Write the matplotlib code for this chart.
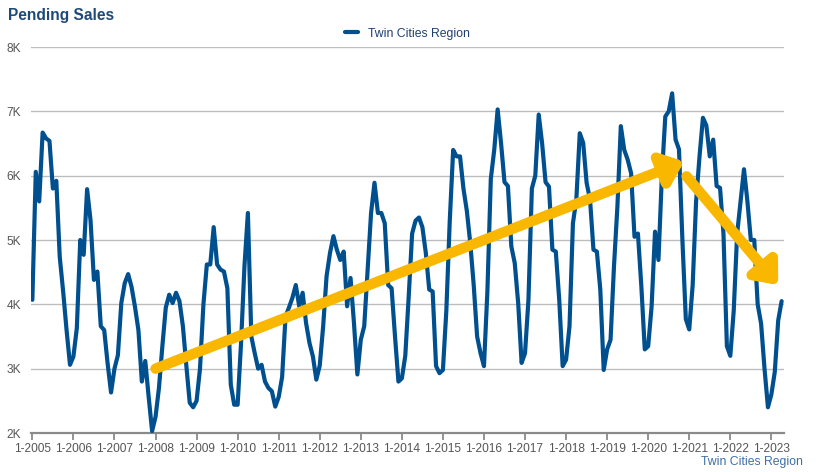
import matplotlib
matplotlib.use("Agg")
import matplotlib.pyplot as plt
import matplotlib.patheffects as pe
import numpy as np

plt.rcParams["font.family"] = ["Liberation Sans", "DejaVu Sans"]

# monthly pending sales (thousands), Jan 2005 .. Apr 2023
y2005 = [4.07, 6.06, 5.60, 6.67, 6.58, 6.54, 5.80, 5.92, 4.74, 4.20, 3.60, 3.06]
y2006 = [3.19, 3.63, 5.00, 4.77, 5.79, 5.31, 4.38, 4.51, 3.66, 3.60, 3.08, 2.63]
y2007 = [3.00, 3.21, 4.02, 4.33, 4.47, 4.27, 3.96, 3.60, 2.80, 3.12, 2.56, 2.03]
y2008 = [2.25, 2.70, 3.35, 3.95, 4.15, 4.02, 4.18, 4.05, 3.66, 3.05, 2.47, 2.40]
y2009 = [2.50, 3.00, 4.00, 4.62, 4.62, 5.20, 4.62, 4.54, 4.51, 4.25, 2.75, 2.44]
y2010 = [2.44, 3.40, 4.60, 5.42, 3.50, 3.24, 3.00, 3.06, 2.80, 2.70, 2.65, 2.41]
y2011 = [2.56, 2.87, 3.81, 3.95, 4.10, 4.30, 3.97, 4.18, 3.71, 3.40, 3.19, 2.83]
y2012 = [3.05, 3.66, 4.44, 4.80, 5.06, 4.85, 4.69, 4.82, 3.97, 4.41, 3.71, 2.91]
y2013 = [3.45, 3.66, 4.54, 5.42, 5.89, 5.42, 5.42, 5.26, 4.30, 4.25, 3.50, 2.80]
y2014 = [2.85, 3.20, 4.12, 5.10, 5.30, 5.35, 5.20, 4.80, 4.23, 4.20, 3.04, 2.93]
y2015 = [2.98, 3.90, 5.30, 6.40, 6.30, 6.30, 5.80, 5.45, 4.95, 4.30, 3.50, 3.24]
y2016 = [3.04, 4.20, 5.95, 6.40, 7.03, 6.50, 5.90, 5.84, 4.90, 4.64, 4.02, 3.09]
y2017 = [3.24, 4.07, 5.80, 6.00, 6.95, 6.50, 5.90, 5.83, 4.85, 4.82, 4.07, 3.04]
y2018 = [3.14, 3.66, 5.26, 5.63, 6.66, 6.51, 5.89, 5.63, 4.85, 4.82, 4.23, 2.98]
y2019 = [3.30, 3.45, 4.59, 5.52, 6.77, 6.40, 6.25, 6.04, 5.05, 5.10, 4.28, 3.30]
y2020 = [3.35, 3.97, 5.13, 4.69, 6.00, 6.92, 7.00, 7.28, 6.56, 6.41, 5.00, 3.77]
y2021 = [3.61, 4.30, 5.60, 6.30, 6.90, 6.78, 6.30, 6.56, 5.84, 5.81, 5.10, 3.35]
y2022 = [3.20, 3.90, 5.10, 5.60, 6.10, 5.60, 5.00, 5.00, 4.00, 3.70, 3.00, 2.40]
y2023 = [2.60, 2.95, 3.75, 4.05]

sales = np.array(y2005 + y2006 + y2007 + y2008 + y2009 + y2010 + y2011 + y2012 + y2013
                 + y2014 + y2015 + y2016 + y2017 + y2018 + y2019 + y2020 + y2021 + y2022 + y2023)
months = np.arange(len(sales))

years = list(range(2005, 2024))
tick_pos = [12 * i for i in range(len(years))]
tick_labels = ["1-%d" % y for y in years]
y_ticks = [2, 3, 4, 5, 6, 7, 8]
y_labels = ["%dK" % v for v in y_ticks]

# annotation arrows (month index, thousands)
arrow_up = ((36, 3.0), (190.5, 6.22))
arrow_down = ((191.2, 5.99), (218.0, 4.30))

navy = "#00508F"
gold = "#F9B700"

fig = plt.figure(figsize=(8.33, 4.72), dpi=100)
ax = fig.add_axes([0.0372, 0.0826, 0.9040, 0.8178])

ax.plot(months, sales, color=navy, lw=3.0, solid_joinstyle="round", solid_capstyle="round",
        label="Twin Cities Region", zorder=3)

ax.set_xlim(-0.4, 219.7)
ax.set_ylim(2, 8)
ax.set_yticks(y_ticks)
ax.set_yticklabels(y_labels)
ax.set_xticks(tick_pos)
ax.set_xticklabels(tick_labels)
ax.grid(axis="y", color="#BDBDBD", lw=1.0)
ax.set_axisbelow(True)
for s in ["top", "right", "left"]:
    ax.spines[s].set_visible(False)
ax.spines["bottom"].set_color("#8A8A8A")
ax.spines["bottom"].set_linewidth(1.6)
ax.tick_params(axis="x", colors="#8A8A8A", length=5, width=1.3, labelsize=8.6, labelcolor="#555555", pad=2)
ax.tick_params(axis="y", length=0, labelsize=8.6, labelcolor="#555555", pad=7)

for start, tip in [arrow_up, arrow_down]:
    an = ax.annotate("", xy=tip, xytext=start,
                     arrowprops=dict(arrowstyle="-|>,head_length=0.6,head_width=0.5",
                                     lw=7.5, color=gold, mutation_scale=20,
                                     shrinkA=0, shrinkB=0, capstyle="round", joinstyle="round"),
                     zorder=5)
    an.arrow_patch.set_path_effects([pe.SimplePatchShadow(offset=(2, -2), shadow_rgbFace="#000000", alpha=0.4),
                                     pe.Normal()])

fig.text(0.010, 0.968, "Pending Sales", fontsize=11.2, fontweight="bold", color="#1F4A78", va="center")
leg = ax.legend(loc="lower center", bbox_to_anchor=(0.5, 1.0), frameon=False, fontsize=8.8,
                handlelength=1.1, borderaxespad=0.2)
for t in leg.get_texts():
    t.set_color("#1F3F6F")
fig.text(0.964, 0.021, "Twin Cities Region", fontsize=8.8, color="#3D6FA8", ha="right", va="center")

plt.savefig("out.png", dpi=100)
